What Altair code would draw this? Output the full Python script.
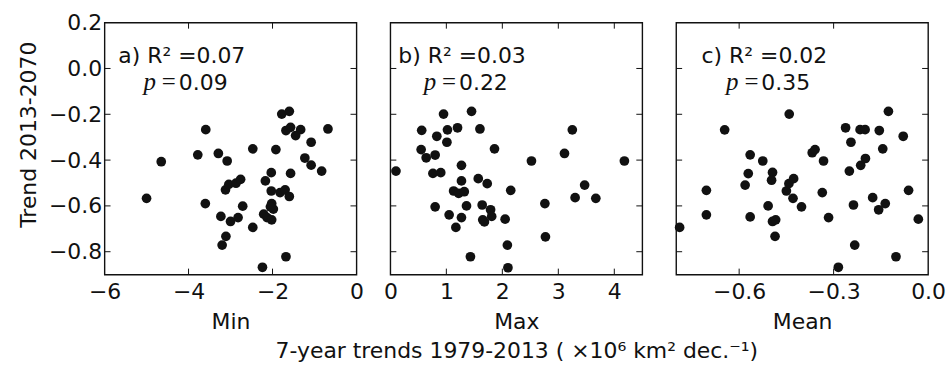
import altair as alt
import pandas as pd

# ---- data ----
# Panel a: Min
min_x = [-5.00, -4.65, -3.59, -3.78, -3.29, -3.08, -3.60, -3.23, -3.11, -3.20, -3.00, -2.82, -2.71,
         -3.12, -3.04, -2.87, -2.76, -2.47, -2.47, -2.24, -2.17, -2.03, -2.03, -1.92, -1.78, -1.60,
         -1.68, -1.57, -1.45, -1.33, -1.08, -0.68, -1.23, -1.08, -0.83, -1.57, -1.82, -1.70, -1.60,
         -2.02, -1.98, -2.21, -2.13, -2.02, -1.68, -2.05]
min_y = [-0.567, -0.407, -0.267, -0.377, -0.371, -0.404, -0.590, -0.646, -0.733, -0.771, -0.668, -0.651,
         -0.601, -0.530, -0.506, -0.501, -0.484, -0.351, -0.694, -0.868, -0.491, -0.455, -0.535, -0.354,
         -0.199, -0.187, -0.271, -0.257, -0.293, -0.267, -0.322, -0.264, -0.391, -0.422, -0.448, -0.458,
         -0.542, -0.530, -0.559, -0.590, -0.614, -0.636, -0.651, -0.661, -0.822, -0.604]

# Panel b: Max
max_x = [0.10, 0.56, 0.95, 1.45, 0.83, 1.02, 1.20, 1.60, 1.01, 0.55, 0.64, 0.80, 1.86, 0.76, 0.90,
         1.27, 1.27, 1.13, 1.22, 1.32, 1.57, 1.73, 2.15, 0.80, 1.05, 1.27, 1.17, 1.36, 1.64, 1.79,
         1.81, 1.65, 1.68, 2.05, 2.09, 1.43, 2.10, 2.52, 2.76, 2.77, 3.11, 3.25, 3.30, 3.47, 3.67, 4.18]
max_y = [-0.448, -0.270, -0.199, -0.187, -0.296, -0.268, -0.259, -0.264, -0.322, -0.354, -0.390, -0.378,
         -0.351, -0.458, -0.455, -0.423, -0.491, -0.535, -0.545, -0.538, -0.481, -0.503, -0.532, -0.604,
         -0.639, -0.651, -0.694, -0.600, -0.596, -0.617, -0.646, -0.661, -0.670, -0.658, -0.771, -0.822,
         -0.870, -0.404, -0.590, -0.735, -0.371, -0.268, -0.564, -0.509, -0.567, -0.404]

# Panel c: Mean
mean_x = [-0.789, -0.704, -0.704, -0.646, -0.565, -0.525, -0.571, -0.581, -0.565, -0.508, -0.494, -0.497,
          -0.494, -0.484, -0.486, -0.441, -0.450, -0.442, -0.427, -0.429, -0.402, -0.368, -0.359, -0.332,
          -0.336, -0.316, -0.285, -0.262, -0.245, -0.250, -0.237, -0.233, -0.214, -0.199, -0.216, -0.200,
          -0.155, -0.144, -0.126, -0.079, -0.176, -0.157, -0.136, -0.102, -0.062, -0.031]
mean_y = [-0.694, -0.532, -0.639, -0.268, -0.377, -0.404, -0.459, -0.509, -0.648, -0.600, -0.454, -0.488,
          -0.668, -0.661, -0.733, -0.199, -0.535, -0.503, -0.481, -0.567, -0.604, -0.368, -0.354, -0.404,
          -0.542, -0.651, -0.868, -0.259, -0.322, -0.448, -0.596, -0.771, -0.423, -0.393, -0.267, -0.267,
          -0.271, -0.351, -0.187, -0.296, -0.564, -0.617, -0.590, -0.822, -0.532, -0.658]

panel_titles = ["Min", ["Max", "7-year trends 1979-2013 ( \u00d710\u2076  km\u00b2  dec.\u207b\u00b9)"], "Mean"]
r2_labels = ["a) R\u00b2 =0.07", "b) R\u00b2 =0.03", "c) R\u00b2 =0.02"]
p_values = ["0.09", "0.22", "0.35"]
ann_x = [-4.16, 1.28, -0.52]
x_domains = [[-6, 0], [0, 4.5], [-0.8, 0.0]]
x_ticks = [[-6, -4, -2, 0], [0, 1, 2, 3, 4], [-0.6, -0.3, 0.0]]
x_formats = ["d", "d", ".1f"]
y_ticks = [0.2, 0.0, -0.2, -0.4, -0.6, -0.8]
y_domain = [-0.9, 0.2]
y_title = "Trend 2013-2070"
ann_y1 = 0.022
ann_y2 = -0.096

# ---- styling ----
W = H = 253
INK = "#111111"
FONT = "DejaVu Sans"
FS = 22
TL = 6  # inward tick length


def make_panel(i, xs, ys, show_y):
    xscale = alt.Scale(domain=x_domains[i], nice=False, zero=False)
    yscale = alt.Scale(domain=y_domain, nice=False, zero=False)
    xaxis = alt.Axis(values=x_ticks[i], format=x_formats[i], title=panel_titles[i],
                     ticks=False, tickSize=0, domain=False, grid=False,
                     labelFlush=False, labelOverlap=False, labelFontSize=FS,
                     labelPadding=7, labelColor=INK, labelFont=FONT,
                     titleFontSize=FS, titleFontWeight="normal", titleColor=INK,
                     titleFont=FONT, titlePadding=9, titleLineHeight=29)
    if show_y:
        yaxis = alt.Axis(values=y_ticks, format=".1f", title=y_title,
                         ticks=False, tickSize=0, domain=False, grid=False,
                         labelFlush=False, labelOverlap=False, labelFontSize=FS,
                         labelPadding=3, labelColor=INK, labelFont=FONT,
                         titleFontSize=FS, titleFontWeight="normal", titleColor=INK,
                         titleFont=FONT, titlePadding=8, titleY=112)
    else:
        yaxis = None

    def X():
        return alt.X("x:Q", scale=xscale, axis=xaxis)

    def Y():
        return alt.Y("y:Q", scale=yscale, axis=yaxis)

    pts = alt.Chart(pd.DataFrame({"x": xs, "y": ys})).mark_circle(
        size=95, color=INK, opacity=1).encode(x=X(), y=Y())

    ytdf = pd.DataFrame({"y": [v for v in y_ticks if y_domain[0] < v < y_domain[1]]})
    xtdf = pd.DataFrame({"x": [v for v in x_ticks[i] if x_domains[i][0] < v < x_domains[i][1]]})
    yl = alt.Chart(ytdf).mark_rule(color=INK, strokeWidth=1).encode(
        y=Y(), x=alt.value(0), x2=alt.value(TL))
    yr = alt.Chart(ytdf).mark_rule(color=INK, strokeWidth=1).encode(
        y=Y(), x=alt.value(W - TL), x2=alt.value(W))
    xb = alt.Chart(xtdf).mark_rule(color=INK, strokeWidth=1).encode(
        x=X(), y=alt.value(H - TL), y2=alt.value(H))
    xtp = alt.Chart(xtdf).mark_rule(color=INK, strokeWidth=1).encode(
        x=X(), y=alt.value(0), y2=alt.value(TL))

    a1 = pd.DataFrame({"x": [ann_x[i]], "y": [ann_y1], "t": [r2_labels[i]]})
    a2 = pd.DataFrame({"x": [ann_x[i]], "y": [ann_y2], "t": [p_values[i]]})
    t1 = alt.Chart(a1).mark_text(align="center", baseline="alphabetic", fontSize=FS,
                                 font=FONT, color=INK).encode(x=X(), y=Y(), text="t:N")
    tp = alt.Chart(a2).mark_text(align="right", baseline="alphabetic", fontSize=25,
                                 font="Liberation Serif", fontStyle="italic", color=INK,
                                 dx=-26).encode(x=X(), y=Y(), text=alt.value("p"))
    te = alt.Chart(a2).mark_text(align="center", baseline="alphabetic", fontSize=25,
                                 font="Liberation Serif", color=INK, dx=-13).encode(
        x=X(), y=Y(), text=alt.value("="))
    tn = alt.Chart(a2).mark_text(align="left", baseline="alphabetic", fontSize=FS,
                                 font=FONT, color=INK, dx=-3).encode(x=X(), y=Y(), text="t:N")

    return alt.layer(pts, yl, yr, xb, xtp, t1, tp, te, tn).properties(width=W, height=H)


pa = make_panel(0, min_x, min_y, True)
pb = make_panel(1, max_x, max_y, False)
pc = make_panel(2, mean_x, mean_y, False)

chart = alt.hconcat(pa, pb, pc, spacing=34, bounds="flush").properties(
    padding={"left": 16, "top": 10, "right": 5, "bottom": 2},
    background="white",
).configure(font=FONT).configure_view(stroke=INK, strokeWidth=1.4)

chart.save("out.html", embed_options={"renderer": "svg", "actions": False})
